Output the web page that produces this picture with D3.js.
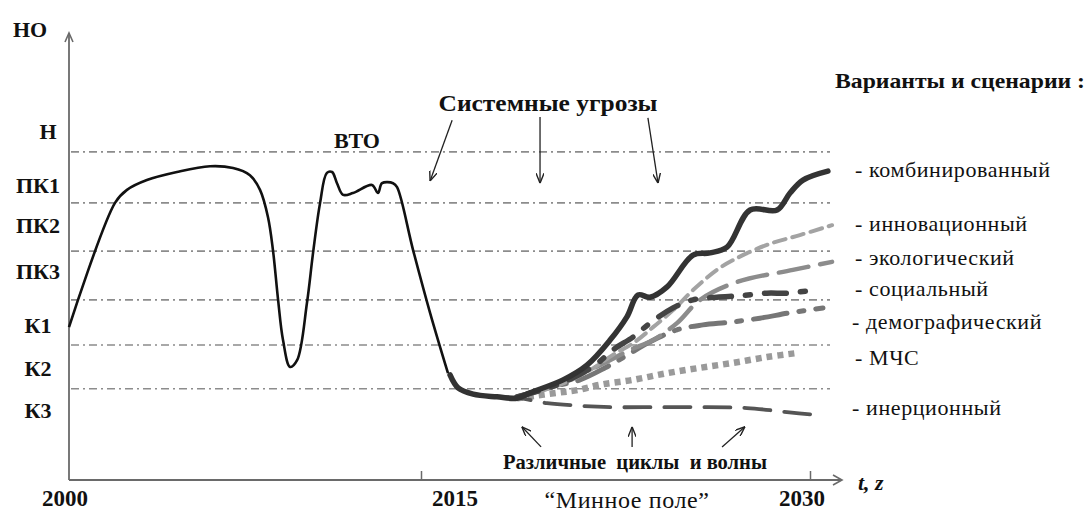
<!DOCTYPE html>
<html>
<head>
<meta charset="utf-8">
<script src="https://cdn.jsdelivr.net/npm/d3@7"></script>
<style>
    body { margin: 0; background: #fff; }
    svg { display: block; }
    text { font-family: "Liberation Serif", "Times New Roman", serif; fill: #111; }
</style>
</head>
<body>
<svg id="chart" width="1088" height="515"></svg>
<script>
// уровни развития (ось НО)
const levelNames = ["Н", "ПК1", "ПК2", "ПК3", "К1", "К2", "К3"];
const levelLabelValues = [78.1, 66.0, 57.0, 46.8, 34.7, 25.1, 15.7];
const levelLines = [73.4, 62.0, 51.2, 40.3, 30.2, 20.4];

const yearTicks = [2015, 2030];
const yearLabels = [2000, 2015, 2030];

// фактическая траектория 2000-2016
const history = [
    [2000.00, 34.2], [2001.96, 62.0], [2002.47, 64.9], [2003.32, 67.1], [2004.60, 68.9],
    [2006.01, 70.2], [2006.99, 69.8], [2007.71, 68.2], [2008.14, 64.9], [2008.48, 58.8],
    [2008.69, 51.5], [2008.91, 40.3], [2009.12, 31.3], [2009.42, 25.3], [2009.72, 26.8],
    [2010.14, 39.6], [2010.40, 50.8], [2010.70, 62.0], [2010.99, 68.7], [2011.21, 68.9],
    [2011.42, 66.4], [2011.68, 63.8], [2012.10, 64.2], [2012.91, 66.0], [2013.17, 64.2],
    [2013.34, 66.4], [2013.81, 66.4], [2013.98, 65.5], [2014.66, 51.5], [2015.35, 37.4],
    [2016.04, 23.9]
];

// сценарии
const scenarioNames = ["комбинированный", "инновационный", "экологический", "социальный",
    "демографический", "МЧС", "инерционный"];
const legendValues = [69.4, 57.3, 49.7, 42.7, 35.3, 27.3, 16.1];

const combined = [
    [2016.12, 23.5], [2016.43, 20.6], [2017.01, 19.2], [2017.93, 18.6], [2018.70, 18.3],
    [2019.20, 19.5], [2020.48, 22.4], [2021.40, 25.7], [2022.29, 31.3], [2022.94, 36.5],
    [2023.37, 41.4], [2023.83, 40.9], [2024.49, 43.2], [2025.49, 50.3], [2026.14, 50.8],
    [2026.80, 52.1], [2027.69, 60.4], [2028.73, 60.4], [2029.23, 64.2], [2029.73, 67.1],
    [2030.69, 69.1]
];
const innovative = [
    [2018.70, 18.6], [2020.36, 21.3], [2021.52, 24.6], [2022.40, 28.0], [2023.18, 30.6],
    [2023.95, 34.2], [2024.72, 38.0], [2025.49, 42.5], [2026.41, 47.0], [2027.03, 49.2],
    [2028.34, 52.6], [2029.61, 54.8], [2030.85, 57.0]
];
const ecological = [
    [2018.70, 18.6], [2020.36, 21.7], [2021.90, 25.7], [2023.06, 29.1], [2023.95, 31.3],
    [2024.87, 35.1], [2025.76, 40.3], [2027.19, 44.3], [2029.34, 47.0], [2030.85, 48.8]
];
const social = [
    [2018.70, 18.6], [2020.36, 21.5], [2021.71, 25.7], [2022.40, 29.1], [2023.18, 32.0],
    [2023.83, 35.1], [2024.72, 38.5], [2025.49, 40.3], [2026.41, 40.9], [2027.30, 41.2],
    [2028.34, 41.8], [2029.15, 41.8], [2030.12, 42.5]
];
const demographic = [
    [2018.70, 18.6], [2020.17, 21.0], [2021.13, 22.4], [2022.10, 25.1], [2022.94, 27.9],
    [2023.83, 30.9], [2024.87, 33.6], [2025.87, 34.7], [2026.91, 35.3], [2028.07, 36.2],
    [2029.23, 37.4], [2030.50, 38.5]
];
const emergency = [
    [2018.70, 18.3], [2019.09, 18.6], [2020.24, 19.5], [2021.02, 20.1], [2021.90, 21.3],
    [2023.18, 22.4], [2024.49, 23.9], [2025.76, 25.1], [2027.03, 26.2], [2028.34, 27.5],
    [2029.50, 28.4]
];
const inertial = [
    [2018.24, 18.6], [2018.82, 18.3], [2019.86, 17.2], [2021.13, 16.6], [2022.40, 16.3],
    [2024.22, 16.3], [2026.03, 16.3], [2027.57, 16.1], [2029.11, 15.2], [2030.31, 14.5]
];

const svg = d3.select("#chart");

// ось времени нарисована не в масштабе: 2000-2015 уже, чем 2015-2030
const x = d3.scaleLinear().domain([2000, 2015, 2030]).range([69, 421, 810]);
const y = d3.scaleLinear().domain([0, 100]).range([480, 33]);

const axisColor = "#6a6a6a";

// горизонтальные уровни
svg.append("g").selectAll("line")
    .data(levelLines)
    .join("line")
    .attr("x1", x(2000) + 2)
    .attr("x2", 830)
    .attr("y1", d => y(d))
    .attr("y2", d => y(d))
    .attr("stroke", "#8c8c8c")
    .attr("stroke-width", 1.6)
    .attr("stroke-dasharray", "8,4,2,4");

// оси
const xAxis = svg.append("g")
    .attr("transform", `translate(0, ${y(0)})`)
    .call(d3.axisBottom(x).tickValues(yearTicks).tickSize(-9).tickFormat(""));
xAxis.select(".domain").remove();
xAxis.selectAll(".tick line").attr("stroke", axisColor).attr("stroke-width", 1.5);

svg.append("line")
    .attr("x1", x(2000)).attr("x2", 842)
    .attr("y1", y(0)).attr("y2", y(0))
    .attr("stroke", axisColor).attr("stroke-width", 1.8);
svg.append("path")
    .attr("d", `M833,${y(0) - 5} L842,${y(0)} L833,${y(0) + 5}`)
    .attr("fill", "none").attr("stroke", axisColor).attr("stroke-width", 1.6);

svg.append("line")
    .attr("x1", x(2000)).attr("x2", x(2000))
    .attr("y1", y(0)).attr("y2", y(100))
    .attr("stroke", axisColor).attr("stroke-width", 1.8);
svg.append("path")
    .attr("d", `M${x(2000) - 4},${y(100) + 9} L${x(2000)},${y(100)} L${x(2000) + 4},${y(100) + 9}`)
    .attr("fill", "none").attr("stroke", axisColor).attr("stroke-width", 1.6);

// подписи осей
svg.append("text")
    .attr("x", 13).attr("y", 37)
    .attr("font-size", 22).attr("font-weight", "bold")
    .text("НО");

svg.append("g").selectAll("text")
    .data(levelNames)
    .join("text")
    .attr("x", (d, i) => i === 0 ? 48 : 38)
    .attr("y", (d, i) => y(levelLabelValues[i]))
    .attr("dy", "0.35em")
    .attr("text-anchor", "middle")
    .attr("font-size", 22)
    .attr("font-weight", "bold")
    .text(d => d);

const yearOffsets = {2000: -4, 2015: 34, 2030: -8};
svg.append("g").selectAll("text")
    .data(yearLabels)
    .join("text")
    .attr("x", d => x(d) + yearOffsets[d])
    .attr("y", 506)
    .attr("text-anchor", "middle")
    .attr("font-size", 23)
    .attr("font-weight", "bold")
    .text(d => d);

svg.append("text")
    .attr("x", 858).attr("y", 490)
    .attr("font-size", 22).attr("font-weight", "bold").attr("font-style", "italic")
    .text("t, z");

svg.append("text")
    .attr("x", 627).attr("y", 508)
    .attr("text-anchor", "middle")
    .attr("font-size", 24)
    .attr("letter-spacing", 0.6)
    .text("“Минное поле”");

// траектории
const line = d3.line()
    .x(d => x(d[0]))
    .y(d => y(d[1]))
    .curve(d3.curveCatmullRom.alpha(0.5));

const scenarios = [
    {data: emergency, color: "#9a9a9a", width: 6.5, dash: "6,5"},
    {data: inertial, color: "#555", width: 3.8, dash: "26,14"},
    {data: demographic, color: "#767676", width: 5, dash: "34,12,5,12"},
    {data: ecological, color: "#8c8c8c", width: 4.5, dash: "30,12"},
    {data: innovative, color: "#a3a3a3", width: 4, dash: "12,7"},
    {data: social, color: "#444", width: 5.5, dash: "22,14,5,14"},
    {data: combined, color: "#333", width: 5.5, dash: null}
];

svg.append("g").selectAll("path")
    .data(scenarios)
    .join("path")
    .attr("d", d => line(d.data))
    .attr("fill", "none")
    .attr("stroke", d => d.color)
    .attr("stroke-width", d => d.width)
    .attr("stroke-dasharray", d => d.dash)
    .attr("stroke-linecap", d => d.dash === "6,5" ? "butt" : "round");

svg.append("path")
    .attr("d", line(history))
    .attr("fill", "none")
    .attr("stroke", "#111")
    .attr("stroke-width", 2.6)
    .attr("stroke-linejoin", "round");

// легенда
svg.append("text")
    .attr("x", 835).attr("y", 88)
    .attr("font-size", 21).attr("font-weight", "bold")
    .attr("textLength", 250).attr("lengthAdjust", "spacingAndGlyphs")
    .text("Варианты и сценарии :");

svg.append("g").selectAll("text")
    .data(scenarioNames)
    .join("text")
    .attr("x", (d, i) => (i === 4 || i === 6) ? 852 : 855)
    .attr("y", (d, i) => y(legendValues[i]))
    .attr("dy", "0.32em")
    .attr("font-size", 22)
    .attr("letter-spacing", 0.6)
    .text(d => "- " + d);

// аннотации
svg.append("defs").append("marker")
    .attr("id", "arrow")
    .attr("viewBox", "0 0 10 8")
    .attr("refX", 10).attr("refY", 4)
    .attr("markerWidth", 10).attr("markerHeight", 8)
    .attr("markerUnits", "userSpaceOnUse")
    .attr("orient", "auto")
    .append("path")
    .attr("d", "M0,0 L10,4 L0,8")
    .attr("fill", "none")
    .attr("stroke", "#222")
    .attr("stroke-width", 1.4);

const arrows = [
    [[2016.20, 80.5], [2015.35, 66.9]],
    [[2019.59, 81.2], [2019.59, 66.4]],
    [[2023.75, 81.0], [2024.14, 66.4]],
    [[2019.63, 7.4], [2018.89, 11.9]],
    [[2023.14, 7.4], [2023.14, 11.9]],
    [[2026.61, 7.4], [2027.49, 11.9]]
];
svg.append("g").selectAll("line")
    .data(arrows)
    .join("line")
    .attr("x1", d => x(d[0][0])).attr("y1", d => y(d[0][1]))
    .attr("x2", d => x(d[1][0])).attr("y2", d => y(d[1][1]))
    .attr("stroke", "#222")
    .attr("stroke-width", 1.3)
    .attr("marker-end", "url(#arrow)");

svg.append("text")
    .attr("x", 548).attr("y", 111)
    .attr("text-anchor", "middle")
    .attr("font-size", 24).attr("font-weight", "bold")
    .attr("textLength", 219).attr("lengthAdjust", "spacingAndGlyphs")
    .text("Системные угрозы");

svg.append("text")
    .attr("x", 357).attr("y", 148)
    .attr("text-anchor", "middle")
    .attr("font-size", 22).attr("font-weight", "bold")
    .text("ВТО");

svg.append("text")
    .attr("x", 635).attr("y", 469)
    .attr("text-anchor", "middle")
    .attr("font-size", 20).attr("font-weight", "bold")
    .attr("textLength", 264).attr("lengthAdjust", "spacingAndGlyphs")
    .style("white-space", "pre")
    .text("Различные  циклы  и волны");
</script>
</body>
</html>
